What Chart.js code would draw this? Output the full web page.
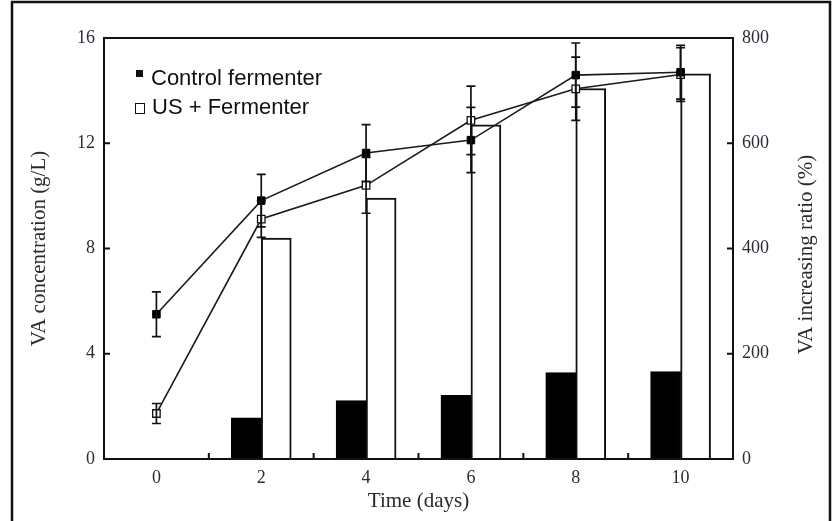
<!DOCTYPE html>
<html>
<head>
<meta charset="utf-8">
<script src="https://cdn.jsdelivr.net/npm/chart.js@4.4.1/dist/chart.umd.min.js"></script>
<style>
  html, body { margin: 0; padding: 0; background: #fff; }
  canvas { display: block; }
</style>
</head>
<body>
<canvas id="va_chart" width="832" height="521"></canvas>
<script>
const days = [0, 2, 4, 6, 8, 10];
const barDays = [2, 4, 6, 8, 10];

// VA concentration (g/L), left axis, with error bars
const controlConc = [5.5, 9.82, 11.63, 12.12, 14.59, 14.70];
const controlErr = [0.85, 1.0, 1.08, 1.24, 1.22, 1.02];
const usConc = [1.73, 9.12, 10.40, 12.87, 14.07, 14.61];
const usErr = [0.38, 0.7, 1.06, 1.3, 1.2, 1.02];

// VA increasing ratio (%), right axis
const controlRatio = [78, 111, 121, 164, 166];
const usRatio = [420, 496, 635, 704, 732];

const xLabels = [0, 2, 4, 6, 8, 10];
const xMinorTicks = [1, 3, 5, 7, 9];
const leftTicks = [0, 4, 8, 12, 16];
const rightTicks = [0, 200, 400, 600, 800];
const rightTitle = 'VA increasing ratio (%)';

const tickFont = { family: 'Liberation Serif', size: 18 };
const titleFont = { family: 'Liberation Serif', size: 21 };
const tickColor = '#2c2c38';

const pts = (xs, ys) => xs.map((x, i) => ({ x: x, y: ys[i] }));

const errorBars = {
  id: 'errorBars',
  afterDatasetsDraw(chart) {
    const ctx = chart.ctx;
    const y = chart.scales.y;
    ctx.save();
    ctx.strokeStyle = '#111';
    ctx.lineWidth = 1.7;
    chart.data.datasets.forEach((ds, i) => {
      if (!ds.errors) return;
      const meta = chart.getDatasetMeta(i);
      meta.data.forEach((p, j) => {
        const v = ds.data[j].y, e = ds.errors[j];
        const top = y.getPixelForValue(v + e), bot = y.getPixelForValue(v - e);
        ctx.beginPath();
        ctx.moveTo(p.x, top); ctx.lineTo(p.x, bot);
        ctx.moveTo(p.x - 4.5, top); ctx.lineTo(p.x + 4.5, top);
        ctx.moveTo(p.x - 4.5, bot); ctx.lineTo(p.x + 4.5, bot);
        ctx.stroke();
      });
    });
    ctx.restore();
  }
};

const frame = {
  id: 'frame',
  afterDraw(chart) {
    const ctx = chart.ctx;
    const a = chart.chartArea;
    const { x, y, y1 } = chart.scales;
    ctx.save();
    ctx.strokeStyle = '#111';
    ctx.lineWidth = 2;
    ctx.strokeRect(a.left, a.top, a.right - a.left, a.bottom - a.top);

    // inward tick marks
    ctx.beginPath();
    leftTicks.forEach(v => {
      const py = y.getPixelForValue(v);
      ctx.moveTo(a.left, py); ctx.lineTo(a.left + 6, py);
    });
    rightTicks.forEach(v => {
      const py = y1.getPixelForValue(v);
      ctx.moveTo(a.right, py); ctx.lineTo(a.right - 6, py);
    });
    xMinorTicks.forEach(v => {
      const px = x.getPixelForValue(v);
      ctx.moveTo(px, a.bottom); ctx.lineTo(px, a.bottom - 6);
    });
    ctx.stroke();

    // right axis title, reading upward like the left one
    ctx.save();
    ctx.translate(806, (a.top + a.bottom) / 2 + 6);
    ctx.rotate(-Math.PI / 2);
    ctx.font = '21px "Liberation Serif"';
    ctx.fillStyle = '#2a2a2a';
    ctx.textAlign = 'center';
    ctx.textBaseline = 'middle';
    ctx.fillText(rightTitle, 0, 0);
    ctx.restore();

    // legend inside the plot
    const bars = chart.data.datasets.filter(d => d.type === 'bar');
    ctx.font = '22px "Liberation Sans"';
    ctx.fillStyle = '#111';
    ctx.textBaseline = 'alphabetic';
    ctx.fillRect(136, 70, 7, 7);
    ctx.fillText(bars[0].label, 151, 85);
    ctx.lineWidth = 1;
    ctx.strokeRect(135.5, 103.5, 9, 10);
    ctx.fillText(bars[1].label, 152, 114);

    // outer picture frame
    ctx.lineWidth = 2.5;
    ctx.beginPath();
    ctx.moveTo(12, 521); ctx.lineTo(12, 2); ctx.lineTo(830, 2); ctx.lineTo(830, 521);
    ctx.stroke();
    ctx.restore();
  }
};

const data = {
  datasets: [
    {
      type: 'line', label: 'Control fermenter', data: pts(days, controlConc), errors: controlErr,
      yAxisID: 'y', borderColor: '#1a1a1a', borderWidth: 1.6, tension: 0,
      pointStyle: 'rect', pointRadius: 5.3, pointBackgroundColor: '#000',
      pointBorderColor: '#000', pointBorderWidth: 1, order: 0
    },
    {
      type: 'line', label: 'US + Fermenter', data: pts(days, usConc), errors: usErr,
      yAxisID: 'y', borderColor: '#1a1a1a', borderWidth: 1.6, tension: 0,
      pointStyle: 'rect', pointRadius: 5.3, pointBackgroundColor: '#fff',
      pointBorderColor: '#111', pointBorderWidth: 1.3, order: 0
    },
    {
      type: 'bar', label: 'Control fermenter', data: pts(barDays, controlRatio),
      yAxisID: 'y1', backgroundColor: '#000', borderColor: '#000', borderWidth: 2,
      barThickness: 30, order: 1
    },
    {
      type: 'bar', label: 'US + Fermenter', data: pts(barDays, usRatio),
      yAxisID: 'y1', backgroundColor: '#fff', borderColor: '#111', borderWidth: 2,
      barThickness: 30, order: 1
    }
  ]
};

const config = {
  type: 'bar',
  data: data,
  plugins: [errorBars, frame],
  options: {
    responsive: false,
    animation: false,
    layout: { padding: { top: 38, left: 0, right: 0, bottom: 0 } },
    plugins: { legend: { display: false }, tooltip: { enabled: false } },
    scales: {
      x: {
        type: 'linear', min: -1, max: 11, offset: false,
        grid: { display: false, drawTicks: false }, border: { display: false },
        ticks: {
          stepSize: 1, autoSkip: false, maxRotation: 0, padding: 8,
          font: tickFont, color: tickColor,
          callback: v => xLabels.includes(v) ? String(v) : ''
        },
        title: { display: true, text: 'Time (days)', font: titleFont, color: '#2a2a2a', padding: { top: 0, bottom: 7 } },
        afterFit: s => { s.height = 62; }
      },
      y: {
        position: 'left', min: 0, max: 16,
        grid: { display: false, drawTicks: false }, border: { display: false },
        ticks: { stepSize: 4, padding: 9, font: tickFont, color: tickColor },
        title: { display: true, text: 'VA concentration (g/L)', font: titleFont, color: '#2a2a2a', padding: { top: 27, bottom: 0 } },
        afterFit: s => { s.width = 104; }
      },
      y1: {
        position: 'right', min: 0, max: 800,
        grid: { display: false, drawTicks: false }, border: { display: false },
        ticks: { stepSize: 200, padding: 9, font: tickFont, color: tickColor },
        title: { display: false },
        afterFit: s => { s.width = 99; }
      }
    }
  }
};

const va_chart = new Chart(document.getElementById('va_chart'), config);
</script>
</body>
</html>
